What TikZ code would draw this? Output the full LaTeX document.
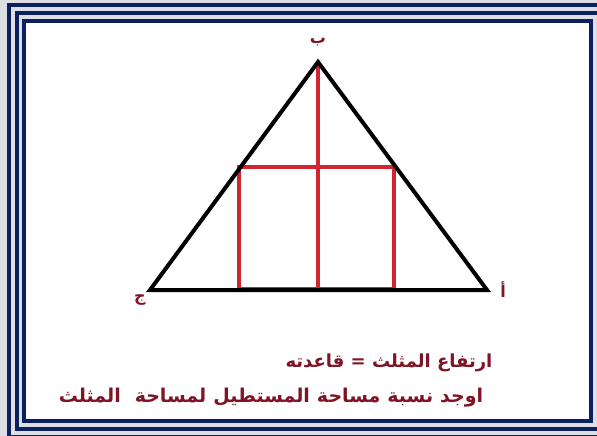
\documentclass[tikz,border=0pt]{standalone}
\usepackage{fontspec}
\newfontfamily\arabicfont[Script=Arabic]{DejaVu Sans}
\TeXXeTstate=1
\definecolor{frameNavy}{HTML}{0A2060}
\definecolor{frameGray}{HTML}{DEDFE3}
\definecolor{triRed}{HTML}{D0262F}
\definecolor{labelRed}{HTML}{7E1424}

\begin{document}
\begin{tikzpicture}[x=1pt,y=-1pt,
  vlabel/.style={text=labelRed,font=\arabicfont\bfseries\fontsize{16}{18}\selectfont,inner sep=0pt},
  tlabel/.style={text=labelRed,font=\arabicfont\bfseries\fontsize{18}{20}\selectfont,inner sep=0pt}]
\useasboundingbox (0,0) rectangle (597,436);
\fill[frameGray] (0,0) rectangle (597,436);
\fill[white] (24,21) rectangle (591,421);
\draw[frameNavy,line width=4pt] (24,21) rectangle (591,421);
\draw[frameNavy,line width=4pt] (17,13) rectangle (605,429);
\draw[frameNavy,line width=4pt] (9,5) rectangle (612,437);
% vertices
\coordinate (ba) at (318,62);
\coordinate (jim) at (150,290);
\coordinate (alif) at (487,290);
\coordinate (foot) at (318,290);
% the rectangle under the triangle
\draw[triRed,line width=4pt] (239,167) rectangle (394,289);
\draw[triRed,line width=4pt] (ba) -- (foot);
\draw[black,line width=4pt,line join=miter] (jim) -- (ba) -- (alif) -- cycle;
\node[vlabel] (lba) at (318,42) {\beginR ب\endR};
\node[vlabel] (ljim) at (140,300) {\beginR ج\endR};
\node[vlabel] (lalif) at (503,290) {\beginR أ\endR};
\node[tlabel] (line1) at (389,363) {\beginR ارتفاع المثلث = قاعدته\endR};
\node[tlabel,font=\arabicfont\bfseries\fontsize{19}{21}\selectfont] (line2) at (271,398) {\spaceskip=7pt\beginR اوجد نسبة مساحة المستطيل لمساحة\ \ المثلث\endR};
\end{tikzpicture}
\end{document}
